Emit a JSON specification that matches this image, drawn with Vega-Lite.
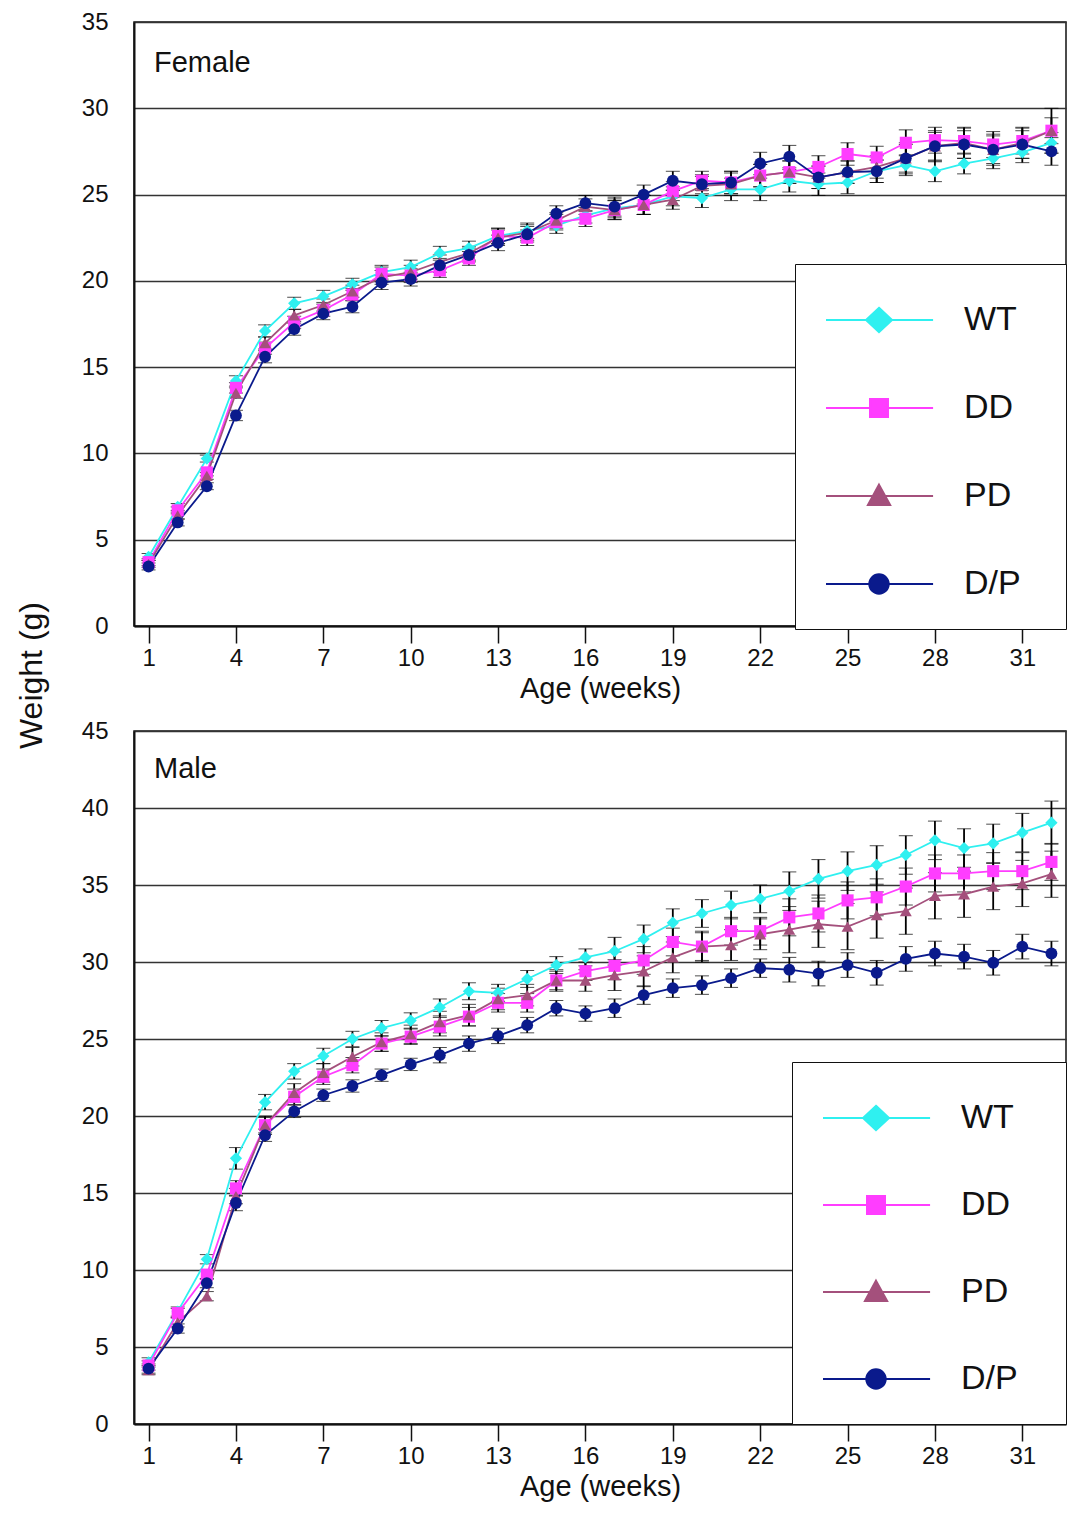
{
"$schema": "https://vega.github.io/schema/vega-lite/v6.json",
"padding": {"left": 14, "top": 9, "right": 5, "bottom": 5},
"background": "white",
"bounds": "flush",
"spacing": 105,
"config": {
  "font": "Liberation Sans",
  "view": {"stroke": "#111", "strokeWidth": 1.5},
  "axis": {"labelFont": "Liberation Sans", "titleFont": "Liberation Sans", "labelColor": "#111", "titleColor": "#111", "titleFontWeight": "normal"}
},
"resolve": {"legend": {"color": "independent"}},
"data": {"values": [
{"s":"F","k":1,"g":"WT","w":4.0,"e":0.2},{"s":"F","k":1,"g":"DD","w":3.7,"e":0.2},{"s":"F","k":1,"g":"PD","w":3.6,"e":0.2},{"s":"F","k":1,"g":"D/P","w":3.45,"e":0.2},
{"s":"F","k":2,"g":"WT","w":6.9,"e":0.2},{"s":"F","k":2,"g":"DD","w":6.7,"e":0.2},{"s":"F","k":2,"g":"PD","w":6.4,"e":0.2},{"s":"F","k":2,"g":"D/P","w":6.0,"e":0.2},
{"s":"F","k":3,"g":"WT","w":9.7,"e":0.2},{"s":"F","k":3,"g":"DD","w":8.9,"e":0.2},{"s":"F","k":3,"g":"PD","w":8.7,"e":0.2},{"s":"F","k":3,"g":"D/P","w":8.1,"e":0.2},
{"s":"F","k":4,"g":"WT","w":14.2,"e":0.3},{"s":"F","k":4,"g":"DD","w":13.8,"e":0.3},{"s":"F","k":4,"g":"PD","w":13.5,"e":0.3},{"s":"F","k":4,"g":"D/P","w":12.2,"e":0.3},
{"s":"F","k":5,"g":"WT","w":17.1,"e":0.35},{"s":"F","k":5,"g":"DD","w":16.1,"e":0.35},{"s":"F","k":5,"g":"PD","w":16.4,"e":0.35},{"s":"F","k":5,"g":"D/P","w":15.6,"e":0.35},
{"s":"F","k":6,"g":"WT","w":18.7,"e":0.35},{"s":"F","k":6,"g":"DD","w":17.6,"e":0.35},{"s":"F","k":6,"g":"PD","w":18.0,"e":0.35},{"s":"F","k":6,"g":"D/P","w":17.2,"e":0.35},
{"s":"F","k":7,"g":"WT","w":19.1,"e":0.35},{"s":"F","k":7,"g":"DD","w":18.3,"e":0.35},{"s":"F","k":7,"g":"PD","w":18.6,"e":0.35},{"s":"F","k":7,"g":"D/P","w":18.1,"e":0.35},
{"s":"F","k":8,"g":"WT","w":19.8,"e":0.35},{"s":"F","k":8,"g":"DD","w":19.2,"e":0.35},{"s":"F","k":8,"g":"PD","w":19.4,"e":0.35},{"s":"F","k":8,"g":"D/P","w":18.5,"e":0.35},
{"s":"F","k":9,"g":"WT","w":20.5,"e":0.4},{"s":"F","k":9,"g":"DD","w":20.4,"e":0.4},{"s":"F","k":9,"g":"PD","w":20.2,"e":0.4},{"s":"F","k":9,"g":"D/P","w":19.9,"e":0.4},
{"s":"F","k":10,"g":"WT","w":20.8,"e":0.4},{"s":"F","k":10,"g":"DD","w":20.3,"e":0.4},{"s":"F","k":10,"g":"PD","w":20.5,"e":0.4},{"s":"F","k":10,"g":"D/P","w":20.1,"e":0.4},
{"s":"F","k":11,"g":"WT","w":21.6,"e":0.4},{"s":"F","k":11,"g":"DD","w":20.6,"e":0.4},{"s":"F","k":11,"g":"PD","w":21.1,"e":0.4},{"s":"F","k":11,"g":"D/P","w":20.9,"e":0.4},
{"s":"F","k":12,"g":"WT","w":21.9,"e":0.4},{"s":"F","k":12,"g":"DD","w":21.3,"e":0.4},{"s":"F","k":12,"g":"PD","w":21.6,"e":0.4},{"s":"F","k":12,"g":"D/P","w":21.5,"e":0.4},
{"s":"F","k":13,"g":"WT","w":22.6,"e":0.45},{"s":"F","k":13,"g":"DD","w":22.6,"e":0.45},{"s":"F","k":13,"g":"PD","w":22.5,"e":0.45},{"s":"F","k":13,"g":"D/P","w":22.2,"e":0.45},
{"s":"F","k":14,"g":"WT","w":22.9,"e":0.45},{"s":"F","k":14,"g":"DD","w":22.5,"e":0.45},{"s":"F","k":14,"g":"PD","w":22.8,"e":0.45},{"s":"F","k":14,"g":"D/P","w":22.7,"e":0.45},
{"s":"F","k":15,"g":"WT","w":23.2,"e":0.45},{"s":"F","k":15,"g":"DD","w":23.4,"e":0.45},{"s":"F","k":15,"g":"PD","w":23.5,"e":0.45},{"s":"F","k":15,"g":"D/P","w":23.9,"e":0.45},
{"s":"F","k":16,"g":"WT","w":23.8,"e":0.45},{"s":"F","k":16,"g":"DD","w":23.6,"e":0.45},{"s":"F","k":16,"g":"PD","w":24.3,"e":0.45},{"s":"F","k":16,"g":"D/P","w":24.5,"e":0.45},
{"s":"F","k":17,"g":"WT","w":24.2,"e":0.55},{"s":"F","k":17,"g":"DD","w":24.1,"e":0.55},{"s":"F","k":17,"g":"PD","w":24.1,"e":0.55},{"s":"F","k":17,"g":"D/P","w":24.3,"e":0.55},
{"s":"F","k":18,"g":"WT","w":24.4,"e":0.55},{"s":"F","k":18,"g":"DD","w":24.4,"e":0.55},{"s":"F","k":18,"g":"PD","w":24.4,"e":0.55},{"s":"F","k":18,"g":"D/P","w":25.0,"e":0.55},
{"s":"F","k":19,"g":"WT","w":24.9,"e":0.55},{"s":"F","k":19,"g":"DD","w":25.2,"e":0.55},{"s":"F","k":19,"g":"PD","w":24.7,"e":0.55},{"s":"F","k":19,"g":"D/P","w":25.8,"e":0.55},
{"s":"F","k":20,"g":"WT","w":24.8,"e":0.55},{"s":"F","k":20,"g":"DD","w":25.8,"e":0.55},{"s":"F","k":20,"g":"PD","w":25.5,"e":0.55},{"s":"F","k":20,"g":"D/P","w":25.6,"e":0.55},
{"s":"F","k":21,"g":"WT","w":25.3,"e":0.65},{"s":"F","k":21,"g":"DD","w":25.7,"e":0.65},{"s":"F","k":21,"g":"PD","w":25.6,"e":0.65},{"s":"F","k":21,"g":"D/P","w":25.7,"e":0.65},
{"s":"F","k":22,"g":"WT","w":25.3,"e":0.65},{"s":"F","k":22,"g":"DD","w":26.1,"e":0.65},{"s":"F","k":22,"g":"PD","w":26.1,"e":0.65},{"s":"F","k":22,"g":"D/P","w":26.8,"e":0.65},
{"s":"F","k":23,"g":"WT","w":25.8,"e":0.65},{"s":"F","k":23,"g":"DD","w":26.3,"e":0.65},{"s":"F","k":23,"g":"PD","w":26.3,"e":0.65},{"s":"F","k":23,"g":"D/P","w":27.2,"e":0.65},
{"s":"F","k":24,"g":"WT","w":25.6,"e":0.65},{"s":"F","k":24,"g":"DD","w":26.6,"e":0.65},{"s":"F","k":24,"g":"PD","w":26.0,"e":0.65},{"s":"F","k":24,"g":"D/P","w":26.0,"e":0.65},
{"s":"F","k":25,"g":"WT","w":25.7,"e":0.65},{"s":"F","k":25,"g":"DD","w":27.35,"e":0.65},{"s":"F","k":25,"g":"PD","w":26.3,"e":0.65},{"s":"F","k":25,"g":"D/P","w":26.3,"e":0.65},
{"s":"F","k":26,"g":"WT","w":26.35,"e":0.65},{"s":"F","k":26,"g":"DD","w":27.15,"e":0.65},{"s":"F","k":26,"g":"PD","w":26.6,"e":0.65},{"s":"F","k":26,"g":"D/P","w":26.35,"e":0.65},
{"s":"F","k":27,"g":"WT","w":26.7,"e":0.6},{"s":"F","k":27,"g":"DD","w":28.0,"e":0.75},{"s":"F","k":27,"g":"PD","w":27.1,"e":0.9},{"s":"F","k":27,"g":"D/P","w":27.1,"e":0.8},
{"s":"F","k":28,"g":"WT","w":26.35,"e":0.6},{"s":"F","k":28,"g":"DD","w":28.15,"e":0.75},{"s":"F","k":28,"g":"PD","w":27.8,"e":0.9},{"s":"F","k":28,"g":"D/P","w":27.8,"e":0.8},
{"s":"F","k":29,"g":"WT","w":26.8,"e":0.6},{"s":"F","k":29,"g":"DD","w":28.1,"e":0.75},{"s":"F","k":29,"g":"PD","w":28.0,"e":0.9},{"s":"F","k":29,"g":"D/P","w":27.9,"e":0.8},
{"s":"F","k":30,"g":"WT","w":27.1,"e":0.6},{"s":"F","k":30,"g":"DD","w":27.9,"e":0.75},{"s":"F","k":30,"g":"PD","w":27.6,"e":0.9},{"s":"F","k":30,"g":"D/P","w":27.6,"e":0.8},
{"s":"F","k":31,"g":"WT","w":27.45,"e":0.6},{"s":"F","k":31,"g":"DD","w":28.1,"e":0.75},{"s":"F","k":31,"g":"PD","w":28.0,"e":0.9},{"s":"F","k":31,"g":"D/P","w":27.9,"e":0.8},
{"s":"F","k":32,"g":"WT","w":28.0,"e":0.6},{"s":"F","k":32,"g":"DD","w":28.7,"e":0.75},{"s":"F","k":32,"g":"PD","w":28.7,"e":1.3},{"s":"F","k":32,"g":"D/P","w":27.5,"e":0.8},
{"s":"M","k":1,"g":"WT","w":4.0,"e":0.3},{"s":"M","k":1,"g":"DD","w":3.8,"e":0.3},{"s":"M","k":1,"g":"PD","w":3.5,"e":0.3},{"s":"M","k":1,"g":"D/P","w":3.6,"e":0.3},
{"s":"M","k":2,"g":"WT","w":7.3,"e":0.3},{"s":"M","k":2,"g":"DD","w":7.2,"e":0.3},{"s":"M","k":2,"g":"PD","w":6.6,"e":0.3},{"s":"M","k":2,"g":"D/P","w":6.2,"e":0.3},
{"s":"M","k":3,"g":"WT","w":10.7,"e":0.3},{"s":"M","k":3,"g":"DD","w":9.7,"e":0.3},{"s":"M","k":3,"g":"PD","w":8.3,"e":0.3},{"s":"M","k":3,"g":"D/P","w":9.15,"e":0.3},
{"s":"M","k":4,"g":"WT","w":17.25,"e":0.7},{"s":"M","k":4,"g":"DD","w":15.3,"e":0.5},{"s":"M","k":4,"g":"PD","w":14.8,"e":0.5},{"s":"M","k":4,"g":"D/P","w":14.35,"e":0.5},
{"s":"M","k":5,"g":"WT","w":20.9,"e":0.5},{"s":"M","k":5,"g":"DD","w":19.4,"e":0.5},{"s":"M","k":5,"g":"PD","w":19.4,"e":0.6},{"s":"M","k":5,"g":"D/P","w":18.75,"e":0.4},
{"s":"M","k":6,"g":"WT","w":22.9,"e":0.5},{"s":"M","k":6,"g":"DD","w":21.25,"e":0.5},{"s":"M","k":6,"g":"PD","w":21.5,"e":0.6},{"s":"M","k":6,"g":"D/P","w":20.3,"e":0.4},
{"s":"M","k":7,"g":"WT","w":23.9,"e":0.5},{"s":"M","k":7,"g":"DD","w":22.55,"e":0.5},{"s":"M","k":7,"g":"PD","w":22.8,"e":0.6},{"s":"M","k":7,"g":"D/P","w":21.35,"e":0.4},
{"s":"M","k":8,"g":"WT","w":25.0,"e":0.5},{"s":"M","k":8,"g":"DD","w":23.3,"e":0.5},{"s":"M","k":8,"g":"PD","w":23.85,"e":0.6},{"s":"M","k":8,"g":"D/P","w":21.95,"e":0.4},
{"s":"M","k":9,"g":"WT","w":25.7,"e":0.5},{"s":"M","k":9,"g":"DD","w":24.7,"e":0.5},{"s":"M","k":9,"g":"PD","w":24.8,"e":0.6},{"s":"M","k":9,"g":"D/P","w":22.65,"e":0.4},
{"s":"M","k":10,"g":"WT","w":26.2,"e":0.5},{"s":"M","k":10,"g":"DD","w":25.15,"e":0.5},{"s":"M","k":10,"g":"PD","w":25.3,"e":0.6},{"s":"M","k":10,"g":"D/P","w":23.35,"e":0.4},
{"s":"M","k":11,"g":"WT","w":27.05,"e":0.55},{"s":"M","k":11,"g":"DD","w":25.8,"e":0.6},{"s":"M","k":11,"g":"PD","w":26.1,"e":0.7},{"s":"M","k":11,"g":"D/P","w":23.95,"e":0.5},
{"s":"M","k":12,"g":"WT","w":28.1,"e":0.55},{"s":"M","k":12,"g":"DD","w":26.45,"e":0.6},{"s":"M","k":12,"g":"PD","w":26.55,"e":0.7},{"s":"M","k":12,"g":"D/P","w":24.7,"e":0.5},
{"s":"M","k":13,"g":"WT","w":28.0,"e":0.55},{"s":"M","k":13,"g":"DD","w":27.35,"e":0.6},{"s":"M","k":13,"g":"PD","w":27.6,"e":0.7},{"s":"M","k":13,"g":"D/P","w":25.2,"e":0.5},
{"s":"M","k":14,"g":"WT","w":28.9,"e":0.55},{"s":"M","k":14,"g":"DD","w":27.35,"e":0.6},{"s":"M","k":14,"g":"PD","w":27.85,"e":0.7},{"s":"M","k":14,"g":"D/P","w":25.9,"e":0.5},
{"s":"M","k":15,"g":"WT","w":29.8,"e":0.55},{"s":"M","k":15,"g":"DD","w":28.8,"e":0.6},{"s":"M","k":15,"g":"PD","w":28.8,"e":0.7},{"s":"M","k":15,"g":"D/P","w":27.0,"e":0.5},
{"s":"M","k":16,"g":"WT","w":30.3,"e":0.55},{"s":"M","k":16,"g":"DD","w":29.4,"e":0.6},{"s":"M","k":16,"g":"PD","w":28.8,"e":0.7},{"s":"M","k":16,"g":"D/P","w":26.65,"e":0.5},
{"s":"M","k":17,"g":"WT","w":30.7,"e":0.9},{"s":"M","k":17,"g":"DD","w":29.75,"e":0.9},{"s":"M","k":17,"g":"PD","w":29.15,"e":1.0},{"s":"M","k":17,"g":"D/P","w":27.0,"e":0.6},
{"s":"M","k":18,"g":"WT","w":31.5,"e":0.9},{"s":"M","k":18,"g":"DD","w":30.1,"e":0.9},{"s":"M","k":18,"g":"PD","w":29.4,"e":1.0},{"s":"M","k":18,"g":"D/P","w":27.85,"e":0.6},
{"s":"M","k":19,"g":"WT","w":32.55,"e":0.9},{"s":"M","k":19,"g":"DD","w":31.3,"e":0.9},{"s":"M","k":19,"g":"PD","w":30.3,"e":1.0},{"s":"M","k":19,"g":"D/P","w":28.3,"e":0.6},
{"s":"M","k":20,"g":"WT","w":33.15,"e":0.9},{"s":"M","k":20,"g":"DD","w":31.0,"e":0.9},{"s":"M","k":20,"g":"PD","w":31.0,"e":1.0},{"s":"M","k":20,"g":"D/P","w":28.5,"e":0.6},
{"s":"M","k":21,"g":"WT","w":33.7,"e":0.9},{"s":"M","k":21,"g":"DD","w":32.0,"e":0.9},{"s":"M","k":21,"g":"PD","w":31.1,"e":1.0},{"s":"M","k":21,"g":"D/P","w":28.95,"e":0.6},
{"s":"M","k":22,"g":"WT","w":34.1,"e":0.9},{"s":"M","k":22,"g":"DD","w":32.0,"e":0.9},{"s":"M","k":22,"g":"PD","w":31.8,"e":1.0},{"s":"M","k":22,"g":"D/P","w":29.6,"e":0.6},
{"s":"M","k":23,"g":"WT","w":34.6,"e":1.25},{"s":"M","k":23,"g":"DD","w":32.9,"e":1.2},{"s":"M","k":23,"g":"PD","w":32.1,"e":1.5},{"s":"M","k":23,"g":"D/P","w":29.5,"e":0.8},
{"s":"M","k":24,"g":"WT","w":35.4,"e":1.25},{"s":"M","k":24,"g":"DD","w":33.15,"e":1.2},{"s":"M","k":24,"g":"PD","w":32.45,"e":1.5},{"s":"M","k":24,"g":"D/P","w":29.25,"e":0.8},
{"s":"M","k":25,"g":"WT","w":35.9,"e":1.25},{"s":"M","k":25,"g":"DD","w":34.0,"e":1.2},{"s":"M","k":25,"g":"PD","w":32.3,"e":1.5},{"s":"M","k":25,"g":"D/P","w":29.8,"e":0.8},
{"s":"M","k":26,"g":"WT","w":36.3,"e":1.25},{"s":"M","k":26,"g":"DD","w":34.2,"e":1.2},{"s":"M","k":26,"g":"PD","w":33.05,"e":1.5},{"s":"M","k":26,"g":"D/P","w":29.3,"e":0.8},
{"s":"M","k":27,"g":"WT","w":36.95,"e":1.25},{"s":"M","k":27,"g":"DD","w":34.9,"e":1.2},{"s":"M","k":27,"g":"PD","w":33.3,"e":1.5},{"s":"M","k":27,"g":"D/P","w":30.2,"e":0.8},
{"s":"M","k":28,"g":"WT","w":37.9,"e":1.25},{"s":"M","k":28,"g":"DD","w":35.75,"e":1.2},{"s":"M","k":28,"g":"PD","w":34.3,"e":1.5},{"s":"M","k":28,"g":"D/P","w":30.55,"e":0.8},
{"s":"M","k":29,"g":"WT","w":37.4,"e":1.25},{"s":"M","k":29,"g":"DD","w":35.75,"e":1.2},{"s":"M","k":29,"g":"PD","w":34.4,"e":1.5},{"s":"M","k":29,"g":"D/P","w":30.35,"e":0.8},
{"s":"M","k":30,"g":"WT","w":37.7,"e":1.25},{"s":"M","k":30,"g":"DD","w":35.9,"e":1.2},{"s":"M","k":30,"g":"PD","w":34.9,"e":1.5},{"s":"M","k":30,"g":"D/P","w":29.95,"e":0.8},
{"s":"M","k":31,"g":"WT","w":38.4,"e":1.25},{"s":"M","k":31,"g":"DD","w":35.9,"e":1.2},{"s":"M","k":31,"g":"PD","w":35.1,"e":1.5},{"s":"M","k":31,"g":"D/P","w":31.0,"e":0.8},
{"s":"M","k":32,"g":"WT","w":39.05,"e":1.4},{"s":"M","k":32,"g":"DD","w":36.5,"e":1.2},{"s":"M","k":32,"g":"PD","w":35.7,"e":1.5},{"s":"M","k":32,"g":"D/P","w":30.55,"e":0.8}
]},
"vconcat": [
{
  "width": 932, "height": 604,
  "title": {"text": "Female", "anchor": "start", "frame": "group", "offset": -68, "dx": 20, "fontSize": 29, "fontWeight": "normal", "font": "Liberation Sans", "color": "#111"},
  "transform": [{"filter": "datum.s === 'F'"}],
  "encoding": {
    "x": {"field": "k", "type": "quantitative", "scale": {"domain": [0.5, 32.5], "nice": false, "zero": false},
      "axis": {"values": [1,4,7,10,13,16,19,22,25,28,31], "title": "Age (weeks)", "titleFontSize": 29, "labelFontSize": 24, "tickSize": 17, "tickColor": "#111", "tickWidth": 1.5, "labelPadding": 3, "titlePadding": 4, "grid": false, "domainColor": "#111", "domainWidth": 2}},
    "y": {"field": "w", "type": "quantitative", "scale": {"domain": [0, 35], "nice": false},
      "axis": {"values": [0,5,10,15,20,25,30,35], "title": "Weight (g)", "titleFontSize": 32, "titleX": -103, "titleY": 653, "titleBaseline": "middle", "labelFontSize": 24, "tickSize": 0, "labelPadding": 26, "grid": true, "gridColor": "#333", "gridWidth": 1.5, "domainColor": "#111", "domainWidth": 2}}
  },
  "layer": [
    {"mark": {"type": "errorbar", "ticks": {"size": 14, "strokeWidth": 1.8}, "rule": {"strokeWidth": 1.8}, "color": "#000"},
     "encoding": {"yError": {"field": "e"}}},
    {"mark": {"type": "line", "strokeWidth": 1.8},
     "encoding": {"color": {"field": "g", "type": "nominal",
       "scale": {"domain": ["WT","DD","PD","D/P"], "range": ["#2FF0F0","#FF3DFF","#A4507C","#0A1A8C"]},
       "legend": {"orient": "none", "legendX": 661, "legendY": 242, "title": null, "direction": "vertical", "strokeColor": "#111", "fillColor": "white", "padding": 28, "rowPadding": 38, "symbolSize": 2916, "symbolStrokeWidth": 2, "labelFontSize": 34, "labelOffset": 85, "labelFont": "Liberation Sans", "labelColor": "#111",
         "encode": {"symbols": {"update": {
           "shape": {"signal": "datum.value==='WT' ? 'M-0.926,0H3.04M1.037,-0.45L1.52,0L1.037,0.45L0.557,0ZM6.75,-1.074' : datum.value==='DD' ? 'M-0.926,0H3.04M0.704,-0.333H1.37V0.333H0.704ZM6.75,-1.074' : datum.value==='PD' ? 'M-0.926,0H3.04M1.037,-0.42L1.45,0.33H0.627ZM6.75,-1.074' : 'M-0.926,0H3.04M0.677,0A0.36,0.36 0 1,0 1.397,0A0.36,0.36 0 1,0 0.677,0ZM6.75,-1.074'"},
           "fill": {"signal": "datum.value==='WT' ? '#2FF0F0' : datum.value==='DD' ? '#FF3DFF' : datum.value==='PD' ? '#A4507C' : '#0A1A8C'"},
           "stroke": {"signal": "datum.value==='WT' ? '#2FF0F0' : datum.value==='DD' ? '#FF3DFF' : datum.value==='PD' ? '#A4507C' : '#0A1A8C'"},
           "opacity": {"value": 1}
         }}}}}}},
    {"mark": {"type": "point", "filled": true, "opacity": 1},
     "encoding": {"color": {"field": "g", "type": "nominal"},
       "shape": {"field": "g", "type": "nominal", "scale": {"domain": ["WT","DD","PD","D/P"], "range": ["diamond","square","triangle-up","circle"]}, "legend": null},
       "size": {"field": "g", "type": "nominal", "scale": {"domain": ["WT","DD","PD","D/P"], "range": [150, 140, 150, 180]}, "legend": null}}}
  ]
},
{
  "width": 932, "height": 693,
  "title": {"text": "Male", "anchor": "start", "frame": "group", "offset": -65, "dx": 20, "fontSize": 29, "fontWeight": "normal", "font": "Liberation Sans", "color": "#111"},
  "transform": [{"filter": "datum.s === 'M'"}],
  "encoding": {
    "x": {"field": "k", "type": "quantitative", "scale": {"domain": [0.5, 32.5], "nice": false, "zero": false},
      "axis": {"values": [1,4,7,10,13,16,19,22,25,28,31], "title": "Age (weeks)", "titleFontSize": 29, "labelFontSize": 24, "tickSize": 17, "tickColor": "#111", "tickWidth": 1.5, "labelPadding": 3, "titlePadding": 4, "grid": false, "domainColor": "#111", "domainWidth": 2}},
    "y": {"field": "w", "type": "quantitative", "scale": {"domain": [0, 45], "nice": false},
      "axis": {"values": [0,5,10,15,20,25,30,35,40,45], "title": null, "labelFontSize": 24, "tickSize": 0, "labelPadding": 26, "grid": true, "gridColor": "#333", "gridWidth": 1.5, "domainColor": "#111", "domainWidth": 2}}
  },
  "layer": [
    {"mark": {"type": "errorbar", "ticks": {"size": 14, "strokeWidth": 1.8}, "rule": {"strokeWidth": 1.8}, "color": "#000"},
     "encoding": {"yError": {"field": "e"}}},
    {"mark": {"type": "line", "strokeWidth": 1.8},
     "encoding": {"color": {"field": "g", "type": "nominal",
       "scale": {"domain": ["WT","DD","PD","D/P"], "range": ["#2FF0F0","#FF3DFF","#A4507C","#0A1A8C"]},
       "legend": {"orient": "none", "legendX": 658, "legendY": 331, "title": null, "direction": "vertical", "strokeColor": "#111", "fillColor": "white", "padding": 28, "rowPadding": 35, "symbolSize": 2916, "symbolStrokeWidth": 2, "labelFontSize": 34, "labelOffset": 85, "labelFont": "Liberation Sans", "labelColor": "#111",
         "encode": {"symbols": {"update": {
           "shape": {"signal": "datum.value==='WT' ? 'M-0.926,0H3.04M1.037,-0.45L1.52,0L1.037,0.45L0.557,0ZM6.86,-1.148' : datum.value==='DD' ? 'M-0.926,0H3.04M0.704,-0.333H1.37V0.333H0.704ZM6.86,-1.148' : datum.value==='PD' ? 'M-0.926,0H3.04M1.037,-0.42L1.45,0.33H0.627ZM6.86,-1.148' : 'M-0.926,0H3.04M0.677,0A0.36,0.36 0 1,0 1.397,0A0.36,0.36 0 1,0 0.677,0ZM6.86,-1.148'"},
           "fill": {"signal": "datum.value==='WT' ? '#2FF0F0' : datum.value==='DD' ? '#FF3DFF' : datum.value==='PD' ? '#A4507C' : '#0A1A8C'"},
           "stroke": {"signal": "datum.value==='WT' ? '#2FF0F0' : datum.value==='DD' ? '#FF3DFF' : datum.value==='PD' ? '#A4507C' : '#0A1A8C'"},
           "opacity": {"value": 1}
         }}}}}}},
    {"mark": {"type": "point", "filled": true, "opacity": 1},
     "encoding": {"color": {"field": "g", "type": "nominal"},
       "shape": {"field": "g", "type": "nominal", "scale": {"domain": ["WT","DD","PD","D/P"], "range": ["diamond","square","triangle-up","circle"]}, "legend": null},
       "size": {"field": "g", "type": "nominal", "scale": {"domain": ["WT","DD","PD","D/P"], "range": [150, 140, 150, 180]}, "legend": null}}}
  ]
}
]
}
